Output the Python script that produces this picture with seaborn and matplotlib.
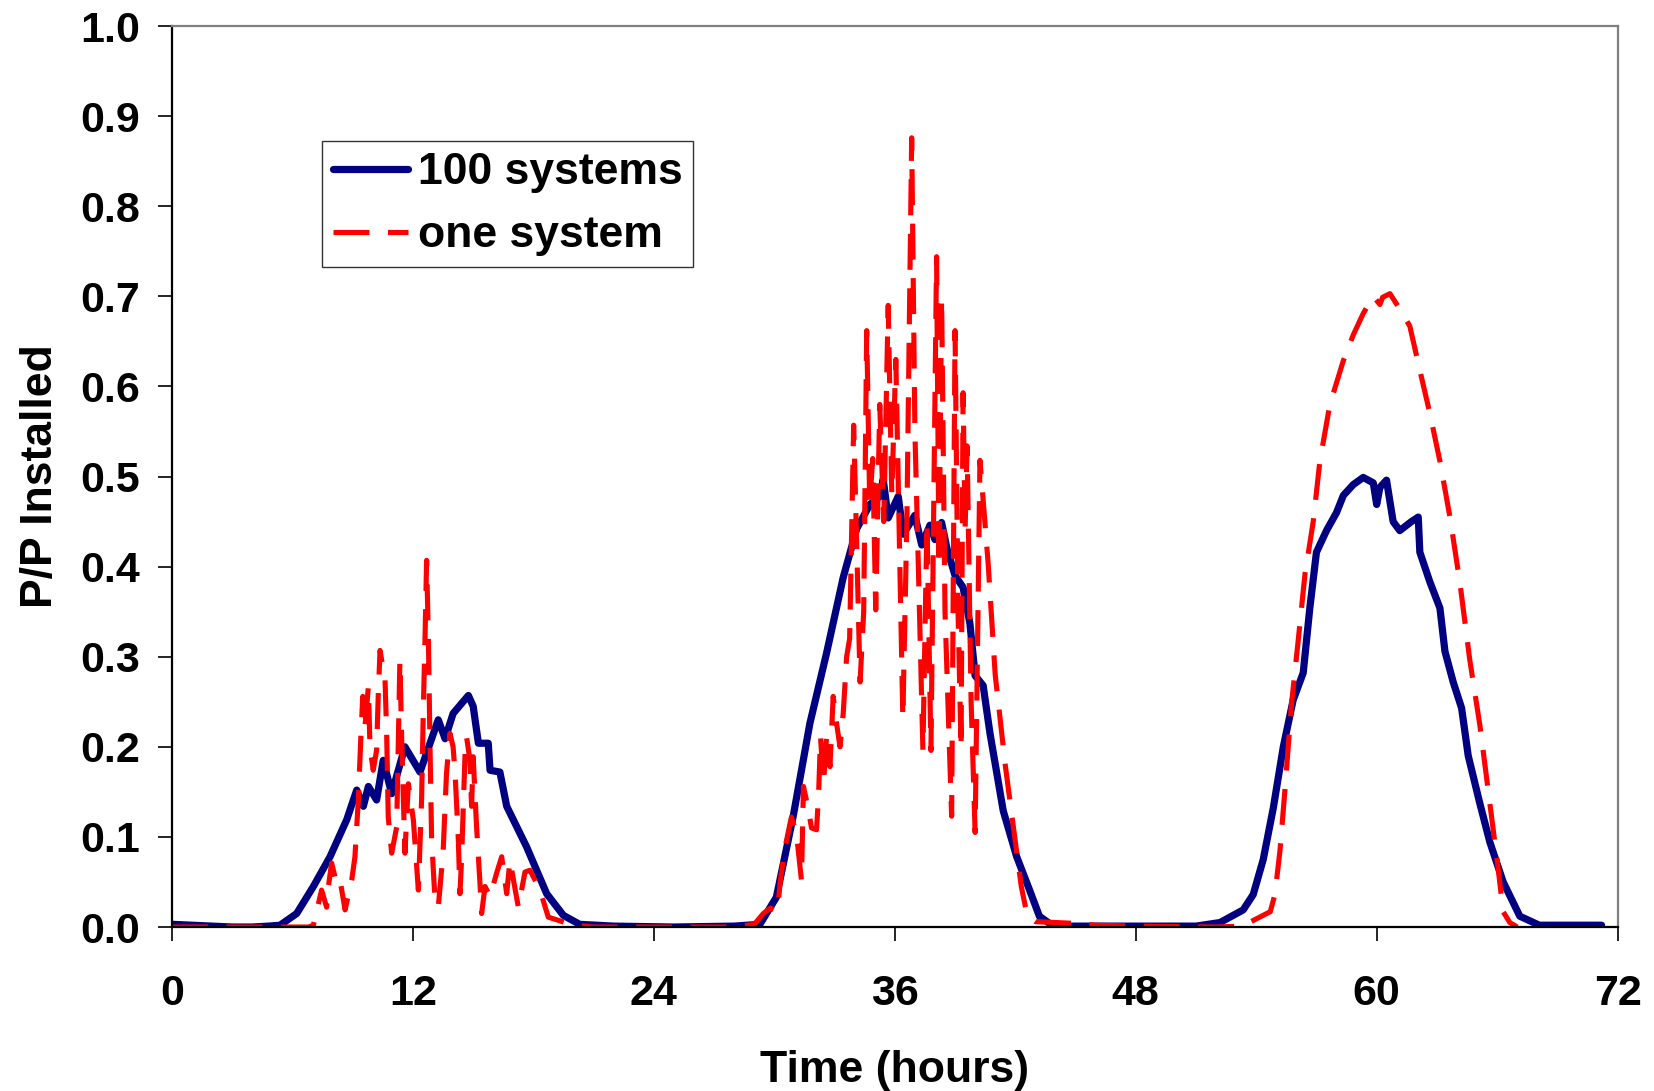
import pandas as pd
import matplotlib.pyplot as plt
from matplotlib.ticker import FormatStrFormatter, MultipleLocator
import seaborn as sns

sns.set_theme(style="white")
plt.rcParams['font.family'] = ['Liberation Sans', 'DejaVu Sans']
plt.rcParams['font.weight'] = 'bold'
plt.rcParams['text.color'] = 'black'
plt.rcParams['axes.labelcolor'] = 'black'
plt.rcParams['xtick.color'] = 'black'
plt.rcParams['ytick.color'] = 'black'

# -- Values -- #
# aggregated output of 100 PV systems
hours_100 = [0.0, 1.0, 2.0, 3.0, 4.0, 4.8, 5.38, 6.21, 7.04, 7.87, 8.7, 9.2, 9.53,
             9.78, 10.19, 10.52, 10.94, 11.6, 12.35, 13.26, 13.6, 14.0, 14.76, 15.0,
             15.26, 15.75, 15.84, 16.33, 16.67, 17.66, 18.66, 19.49, 20.3, 22.0,
             25.0, 28.0, 29.28, 30.1, 30.94, 31.77, 32.6, 33.43, 34.1, 34.76,
             35.26, 35.42, 35.67, 35.92, 36.17, 36.42, 37.0, 37.34, 37.75, 38.0,
             38.33, 38.6, 39.0, 39.4, 39.74, 40.0, 40.4, 40.74, 41.4, 42.07, 42.73,
             43.2, 43.7, 44.5, 48.0, 51.0, 52.2, 53.35, 53.85, 54.35, 54.85,
             55.35, 55.84, 56.34, 56.67, 57.0, 57.5, 58.0, 58.34, 58.83, 59.33,
             59.83, 60.0, 60.16, 60.49, 60.82, 61.15, 61.73, 62.07, 62.15, 62.65,
             63.15, 63.4, 63.81, 64.23, 64.56, 65.14, 65.64, 66.3, 67.13, 68.1,
             70.0, 71.2]
power_100 = [0.003, 0.002, 0.001, 0.0, 0.0, 0.001, 0.002, 0.015, 0.045, 0.078, 0.119,
             0.152, 0.134, 0.156, 0.141, 0.185, 0.148, 0.200, 0.172, 0.230, 0.209,
             0.237, 0.257, 0.245, 0.204, 0.204, 0.174, 0.172, 0.134, 0.089, 0.037,
             0.013, 0.003, 0.001, 0.0, 0.001, 0.003, 0.033, 0.123, 0.226, 0.304,
             0.388, 0.442, 0.469, 0.478, 0.497, 0.454, 0.466, 0.478, 0.436, 0.457,
             0.424, 0.446, 0.430, 0.449, 0.420, 0.390, 0.377, 0.337, 0.279, 0.268,
             0.215, 0.129, 0.078, 0.040, 0.012, 0.004, 0.001, 0.001, 0.001, 0.005,
             0.019, 0.036, 0.075, 0.132, 0.200, 0.252, 0.282, 0.354, 0.416, 0.440,
             0.460, 0.479, 0.491, 0.499, 0.493, 0.469, 0.488, 0.496, 0.450, 0.440,
             0.450, 0.455, 0.416, 0.383, 0.354, 0.306, 0.272, 0.243, 0.190, 0.137,
             0.094, 0.050, 0.012, 0.002, 0.002, 0.002]

# output of a single PV system
hours_one = [0.0, 6.8, 7.04, 7.45, 7.7, 7.79, 7.95, 8.2, 8.37, 8.62, 8.95, 9.11, 9.28,
             9.4, 9.5, 9.61, 9.78, 9.86, 10.02, 10.19, 10.27, 10.36, 10.61, 10.69,
             10.77, 10.94, 11.19, 11.35, 11.44, 11.6, 11.77, 12.02, 12.27, 12.43,
             12.52, 12.6, 12.68, 12.77, 12.85, 12.93, 13.1, 13.26, 13.5, 13.67,
             13.84, 14.0, 14.1, 14.26, 14.34, 14.42, 14.59, 14.67, 14.84, 14.92,
             15.0, 15.17, 15.34, 15.42, 15.59, 15.84, 16.17, 16.42, 16.67, 16.83,
             17.25, 17.58, 17.83, 18.33, 18.74, 19.16, 20.0, 21.0, 28.0, 29.0,
             29.45, 29.8, 30.15, 30.3, 30.55, 30.85, 31.1, 31.35, 31.45, 31.7,
             31.85, 32.1, 32.2, 32.3, 32.45, 32.6, 32.77, 32.93, 33.1, 33.27, 33.43,
             33.6, 33.75, 33.95, 34.1, 34.27, 34.45, 34.6, 34.75, 34.9, 35.05,
             35.25, 35.45, 35.67, 35.85, 36.05, 36.25, 36.4, 36.6, 36.84, 37.0,
             37.15, 37.4, 37.6, 37.8, 38.08, 38.2, 38.33, 38.5, 38.83, 39.0, 39.15,
             39.3, 39.4, 39.5, 39.6, 39.8, 40.0, 40.24, 40.45, 40.65, 41.0, 41.5,
             42.0, 42.3, 42.6, 43.0, 44.0, 45.0, 46.0, 48.0, 52.0, 53.3, 54.7,
             54.93, 55.18, 55.43, 55.76, 56.1, 56.43, 56.84, 57.17, 57.67, 58.33,
             58.83, 59.33, 59.83, 60.16, 60.3, 60.66, 61.15, 61.65, 62.15, 62.65,
             63.15, 63.65, 64.14, 64.64, 65.14, 65.64, 66.05, 66.3, 66.63, 67.0]
power_one = [0.0, 0.0, 0.002, 0.041, 0.022, 0.045, 0.071, 0.048, 0.052, 0.019, 0.052,
             0.078, 0.141, 0.208, 0.256, 0.222, 0.267, 0.200, 0.174, 0.196, 0.256,
             0.307, 0.274, 0.215, 0.122, 0.082, 0.111, 0.296, 0.208, 0.082, 0.159,
             0.119, 0.041, 0.141, 0.245, 0.319, 0.407, 0.319, 0.200, 0.097, 0.030,
             0.022, 0.082, 0.170, 0.215, 0.200, 0.170, 0.097, 0.037, 0.074, 0.189,
             0.211, 0.185, 0.134, 0.189, 0.111, 0.048, 0.015, 0.045, 0.034, 0.060,
             0.078, 0.037, 0.074, 0.022, 0.061, 0.063, 0.041, 0.011, 0.008, 0.002,
             0.0, 0.0, 0.003, 0.015, 0.021, 0.017, 0.052, 0.090, 0.122, 0.104,
             0.052, 0.156, 0.130, 0.110, 0.108, 0.145, 0.211, 0.159, 0.211, 0.178,
             0.256, 0.226, 0.200, 0.237, 0.300, 0.320, 0.557, 0.426, 0.272, 0.350,
             0.662, 0.470, 0.520, 0.352, 0.580, 0.450, 0.690, 0.480, 0.630, 0.400,
             0.232, 0.450, 0.876, 0.550, 0.420, 0.196, 0.450, 0.196, 0.744, 0.400,
             0.698, 0.350, 0.123, 0.662, 0.350, 0.198, 0.593, 0.440, 0.534, 0.250,
             0.105, 0.518, 0.460, 0.403, 0.280, 0.180, 0.095, 0.045, 0.012, 0.006,
             0.005, 0.004, 0.002, 0.001, 0.0, 0.001, 0.017, 0.036, 0.084, 0.152,
             0.248, 0.320, 0.392, 0.450, 0.517, 0.580, 0.628, 0.657, 0.681, 0.700,
             0.691, 0.699, 0.703, 0.686, 0.667, 0.618, 0.570, 0.517, 0.455, 0.383,
             0.296, 0.224, 0.137, 0.065, 0.017, 0.005, 0.0]

df_100 = pd.DataFrame({"Time": hours_100, "P": power_100})
df_one = pd.DataFrame({"Time": hours_one, "P": power_one})

fig = plt.figure(figsize=(16.54, 10.91), dpi=100)
ax = fig.add_axes([0.104, 0.1503, 0.874, 0.8258])

sns.lineplot(data=df_100, x="Time", y="P", ax=ax, color="#000080",
             linewidth=5.2, estimator=None, sort=False,
             solid_capstyle="round", solid_joinstyle="round",
             label="100 systems")
sns.lineplot(data=df_one, x="Time", y="P", ax=ax, color="#FF0000",
             linewidth=3.7, estimator=None, sort=False,
             linestyle=(0, (7.0, 3.6)), label="one system")

# Axis limits / ticks
ax.set_xlim(0, 72)
ax.set_ylim(0, 1.0)
ax.xaxis.set_major_locator(MultipleLocator(12))
ax.yaxis.set_major_locator(MultipleLocator(0.1))
ax.yaxis.set_major_formatter(FormatStrFormatter('%.1f'))

ax.tick_params(axis="both", which="major", direction="out", length=10,
               width=1.2, color="black", labelsize=31)
ax.tick_params(axis="x", bottom=True, pad=24)
ax.tick_params(axis="y", left=True, pad=13)
for lbl in ax.get_xticklabels() + ax.get_yticklabels():
    lbl.set_fontweight("bold")

# Axis labels
ax.set_xlabel("Time (hours)", fontsize=32, fontweight="bold", labelpad=26)
ax.set_ylabel("P/P Installed", fontsize=32, fontweight="bold", labelpad=14)

ax.spines.left.set_color("black")
ax.spines.bottom.set_color("black")
ax.spines.top.set_color("#808080")
ax.spines.right.set_color("#808080")
for s in ax.spines.values():
    s.set_linewidth(1.6)

leg = ax.legend(loc="upper left", bbox_to_anchor=(0.1037, 0.872),
                borderaxespad=0, frameon=True, fancybox=False,
                handlelength=1.7, handletextpad=0.22, labelspacing=0.5,
                borderpad=0.24, prop={"weight": "bold", "size": 32})
leg.get_frame().set_edgecolor("black")
leg.get_frame().set_linewidth(1.0)

fig.savefig("out.png", dpi=100)
